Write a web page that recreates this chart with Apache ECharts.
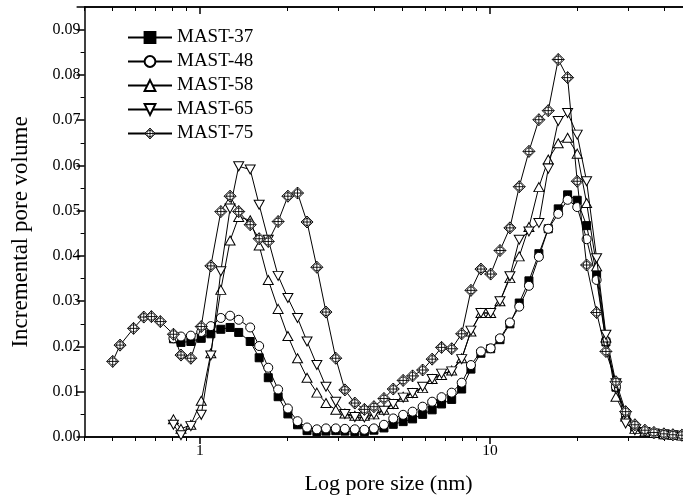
<!DOCTYPE html>
<html><head><meta charset="utf-8">
<script src="https://cdn.jsdelivr.net/npm/echarts@6/dist/echarts.min.js"></script>
<style>html,body{margin:0;padding:0;background:#fff}#c{width:683px;height:502px}</style>
</head><body><div id="c"></div><script>
// Pore size (nm) bins shared by all samples
const poreSize = [0.50,0.53,0.59,0.64,0.68,0.73,0.81,0.86,0.93,1.01,1.09,1.18,1.27,1.36,1.49,1.60,1.72,1.86,2.01,2.17,2.34,2.53,2.72,2.94,3.16,3.42,3.69,3.98,4.31,4.64,5.02,5.41,5.86,6.32,6.81,7.38,7.99,8.60,9.31,10.06,10.83,11.72,12.62,13.63,14.75,15.89,17.20,18.53,20.00,21.55,23.33,25.12,27.20,29.38,31.62,34.24,36.78,39.81,42.76,45.92];
const N = null;
const mast37 = [N,N,N,N,N,N,0.0217,0.0209,0.0211,0.0218,
0.0228,0.0238,0.0242,0.0231,0.0211,0.0175,0.0131,0.0089,0.0051,0.0027,
0.0014,0.0012,0.0013,0.0014,0.0013,0.0012,0.0012,0.0015,0.0020,0.0028,
0.0034,0.0040,0.0050,0.0060,0.0073,0.0083,0.0106,0.0150,0.0185,0.0195,
0.0215,0.0250,0.0296,0.0345,0.0405,0.0460,0.0504,0.0535,0.0523,0.0467,
0.0360,0.0210,0.0110,0.0050,0.0020,0.0012,0.0008,0.0005,0.0004,0.0003];
const mast48 = [N,N,N,N,N,N,0.0218,0.0222,0.0224,0.0232,
0.0245,0.0263,0.0268,0.0259,0.0242,0.0201,0.0153,0.0105,0.0063,0.0035,
0.0021,0.0017,0.0019,0.0019,0.0018,0.0017,0.0016,0.0019,0.0027,0.0041,
0.0049,0.0056,0.0067,0.0078,0.0088,0.0098,0.0120,0.0159,0.0189,0.0196,
0.0218,0.0253,0.0288,0.0334,0.0398,0.0460,0.0493,0.0524,0.0508,0.0437,
0.0347,0.0211,0.0111,0.0052,0.0019,0.0012,0.0008,0.0006,0.0004,0.0003];
const mast58 = [N,N,N,N,N,N,0.0039,0.0018,0.0027,0.0080,
0.0185,0.0325,0.0434,0.0486,0.0479,0.0423,0.0347,0.0283,0.0223,0.0174,
0.0131,0.0098,0.0075,0.0060,0.0052,0.0047,0.0047,0.0050,0.0060,0.0073,
0.0089,0.0097,0.0108,0.0128,0.0137,0.0147,0.0174,0.0233,0.0274,0.0274,
0.0300,0.0351,0.0399,0.0464,0.0552,0.0613,0.0649,0.0661,0.0626,0.0517,
0.0377,0.0220,0.0089,0.0045,0.0018,0.0012,0.0009,0.0006,0.0005,0.0003];
const mast65 = [N,N,N,N,N,N,0.0027,0.0004,0.0024,0.0049,
0.0180,0.0366,0.0505,0.0598,0.0591,0.0513,0.0436,0.0356,0.0307,0.0263,
0.0211,0.0159,0.0111,0.0078,0.0051,0.0044,0.0043,0.0050,0.0058,0.0073,
0.0087,0.0097,0.0111,0.0128,0.0140,0.0145,0.0172,0.0235,0.0274,0.0274,
0.0300,0.0355,0.0436,0.0454,0.0473,0.0593,0.0698,0.0716,0.0668,0.0565,
0.0395,0.0226,0.0119,0.0030,0.0015,0.0011,0.0008,0.0006,0.0004,0.0003];
const mast75 = [0.0167,0.0203,0.0240,0.0265,0.0266,0.0255,0.0227,0.0181,0.0174,0.0244,
0.0378,0.0498,0.0532,0.0498,0.0469,0.0438,0.0432,0.0476,0.0532,0.0539,
0.0475,0.0375,0.0276,0.0174,0.0104,0.0075,0.0061,0.0067,0.0085,0.0106,
0.0125,0.0135,0.0148,0.0172,0.0198,0.0195,0.0228,0.0324,0.0371,0.0360,
0.0412,0.0462,0.0553,0.0631,0.0701,0.0721,0.0834,0.0794,0.0565,0.0380,
0.0275,0.0189,0.0122,0.0056,0.0027,0.0015,0.0010,0.0007,0.0005,0.0004];

const seriesNames = ['MAST-37','MAST-48','MAST-58','MAST-65','MAST-75'];
const xLabelTicks = [1, 10];
const xMinorTicks = [0.4,0.5,0.6,0.7,0.8,0.9,2,3,4,5,6,7,8,9,20,30,40,50];
const xAxisTitle = 'Log pore size (nm)';
const yAxisTitle = 'Incremental pore volume';

const FONT = 'Liberation Serif';
const toPairs = arr => poreSize.map((x, i) => [x, arr[i]]).filter(d => d[1] !== null);

// diamond with an inscribed circle and a cross (symbol shape)
function diamondCrossPath() {
  let p = 'M12,0L24,12L12,24L0,12Z';
  const r = 7, n = 20;
  for (let k = 0; k <= n; k++) {
    const a = 2 * Math.PI * k / n;
    p += (k === 0 ? 'M' : 'L') + (12 + r * Math.cos(a)).toFixed(2) + ',' + (12 + r * Math.sin(a)).toFixed(2);
  }
  p += 'Z M12,0L12,24 M0,12L24,12';
  return 'path://' + p;
}
const openStyle = {color: '#fff', borderColor: '#000', borderWidth: 1};
const diamondStyle = {color: '#fff', borderColor: '#000', borderWidth: 0.9};
const styles = [
  {symbol: 'rect', symbolSize: 8, itemStyle: {color: '#000', borderColor: '#000', borderWidth: 1}},
  {symbol: 'circle', symbolSize: 9, itemStyle: openStyle},
  {symbol: 'triangle', symbolSize: [10, 9], itemStyle: openStyle},
  {symbol: 'triangle', symbolSize: [10, 9], symbolRotate: 180, itemStyle: openStyle},
  {symbol: diamondCrossPath(), symbolSize: 12, itemStyle: diamondStyle}
];
const dataSets = [mast37, mast48, mast58, mast65, mast75];

const xBase = {type: 'log', logBase: 10, min: 0.4, max: 50, gridIndex: 0,
  splitLine: {show: false}, axisLine: {show: true, onZero: false, lineStyle: {color: '#000', width: 1.5}}};

const chart = echarts.init(document.getElementById('c'), null, {renderer: 'canvas'});
chart.setOption({
  animation: false,
  backgroundColor: '#fff',
  grid: {left: 84.6, top: 7, right: -9.6, bottom: 65, outerBoundsMode: 'none', containLabel: false},
  legend: {
    orient: 'vertical', left: 127, top: 28, padding: 0, itemWidth: 44, itemHeight: 13.5, itemGap: 5,
    textStyle: {fontFamily: FONT, fontSize: 19, color: '#000'},
    data: seriesNames.map((n, i) => i === 4 ? {name: n, itemStyle: diamondStyle} : n)
  },
  xAxis: [
    Object.assign({}, xBase, {position: 'bottom', name: xAxisTitle, nameLocation: 'middle', nameGap: 36,
      nameTextStyle: {fontFamily: FONT, fontSize: 22, color: '#000'},
      axisTick: {show: true, length: 7, customValues: xLabelTicks, lineStyle: {color: '#000', width: 1.5}},
      axisLabel: {show: true, customValues: xLabelTicks, fontFamily: FONT, fontSize: 15.5, color: '#000', margin: 6,
        formatter: v => String(Math.round(v))}}),
    Object.assign({}, xBase, {position: 'bottom',
      axisTick: {show: true, length: 4, customValues: xMinorTicks, lineStyle: {color: '#000', width: 1}},
      axisLabel: {show: false}}),
    Object.assign({}, xBase, {position: 'top',
      axisTick: {show: true, inside: true, length: 7, customValues: xLabelTicks, lineStyle: {color: '#000', width: 1.5}},
      axisLabel: {show: false}}),
    Object.assign({}, xBase, {position: 'top',
      axisTick: {show: true, inside: true, length: 4, customValues: xMinorTicks, lineStyle: {color: '#000', width: 1}},
      axisLabel: {show: false}})
  ],
  yAxis: {
    type: 'value', min: 0, max: 0.095, interval: 0.01,
    name: yAxisTitle, nameLocation: 'middle', nameGap: 52,
    nameTextStyle: {fontFamily: FONT, fontSize: 23, color: '#000', padding: [0, 20, 0, 0]},
    splitLine: {show: false},
    axisLine: {show: true, lineStyle: {color: '#000', width: 1.5}},
    axisTick: {show: true, length: 8, lineStyle: {color: '#000', width: 1.5}},
    minorTick: {show: true, splitNumber: 2, length: 4, lineStyle: {color: '#000', width: 1}},
    axisLabel: {fontFamily: FONT, fontSize: 16, color: '#000', margin: 4, showMaxLabel: false,
      formatter: v => v.toFixed(2)}
  },
  series: seriesNames.map((name, i) => Object.assign({
    name: name, type: 'line', xAxisIndex: 0, yAxisIndex: 0,
    data: toPairs(dataSets[i]),
    lineStyle: {color: '#000', width: 1},
    showAllSymbol: true, clip: true, z: 2 + i
  }, styles[i]))
});
</script></body></html>
